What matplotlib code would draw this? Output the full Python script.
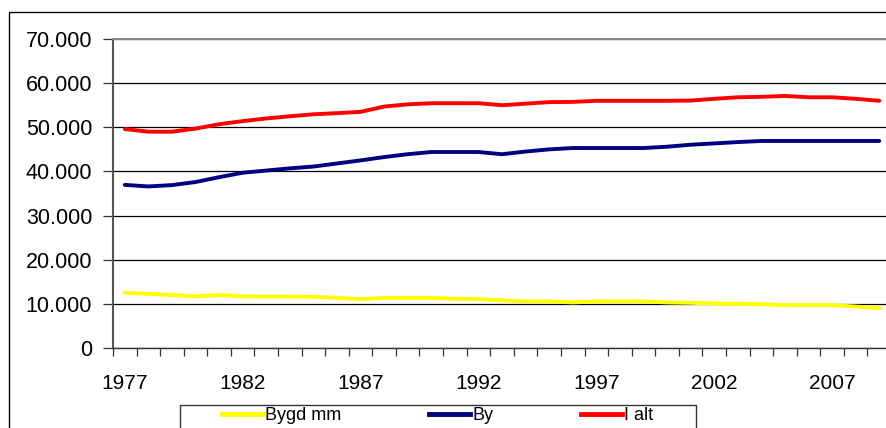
import matplotlib
matplotlib.use("Agg")
import matplotlib.pyplot as plt
from matplotlib.patches import Rectangle
from matplotlib.lines import Line2D

years = list(range(1977, 2010))
bygd_mm = [12500, 12270, 12000, 11680, 12000, 11680, 11650, 11650, 11600, 11360, 11070,
           11360, 11360, 11360, 11140, 11070, 10800, 10545, 10545, 10320, 10545, 10545,
           10545, 10320, 10230, 10090, 10000, 9930, 9700, 9700, 9700, 9400, 9020]
by = [36950, 36600, 36900, 37600, 38700, 39700, 40200, 40700, 41100, 41800, 42500,
      43250, 43900, 44400, 44400, 44400, 43900, 44500, 45000, 45300, 45300, 45300,
      45300, 45600, 46050, 46350, 46650, 46900, 46900, 46900, 46900, 46900, 46900]
i_alt = [49600, 49000, 49000, 49700, 50700, 51400, 52000, 52500, 52950, 53200, 53500,
         54700, 55200, 55450, 55450, 55450, 55000, 55350, 55700, 55750, 56000, 56000,
         56000, 56000, 56050, 56450, 56800, 56900, 57100, 56800, 56800, 56450, 56000]
series_names = ["Bygd mm", "By", "I alt"]
series_colors = ["#FFFF00", "#000080", "#FF0000"]
ytick_vals = [0, 10000, 20000, 30000, 40000, 50000, 60000, 70000]
ytick_labels = ["0", "10.000", "20.000", "30.000", "40.000", "50.000", "60.000", "70.000"]
xlabel_years = [1977, 1982, 1987, 1992, 1997, 2002, 2007]

FONT = "Liberation Sans"
W, H = 886, 428
fig = plt.figure(figsize=(W / 100, H / 100), dpi=100)
fig.patch.set_facecolor("white")

# outer chart border (cropped on right and bottom)
fig.patches.append(Rectangle((9 / W, -0.1), 2.0, (H - 12) / H + 0.1,
                             transform=fig.transFigure, fill=False,
                             edgecolor="black", linewidth=1.0))

left, right, top, bottom = 113, 891, 39, 348
ax = fig.add_axes([left / W, 1 - bottom / H, (right - left) / W, (bottom - top) / H])
ax.set_facecolor("white")

for vals, name, col in zip([bygd_mm, by, i_alt], series_names, series_colors):
    ax.plot(years, vals, color=col, linewidth=2.8, label=name,
            solid_joinstyle="round", solid_capstyle="round", zorder=3)

ax.set_ylim(0, 70000)
ax.set_xlim(years[0] - 0.5, years[-1] + 0.5)
ax.set_yticks(ytick_vals)
ax.set_yticklabels(ytick_labels, fontsize=15.5, family=FONT)
ax.yaxis.grid(True, color="black", linewidth=0.9, zorder=1)
ax.set_axisbelow(True)

ax.set_xticks([y - 0.5 for y in years] + [years[-1] + 0.5])
ax.set_xticklabels([])
ax.set_xticks(xlabel_years, minor=True)
ax.set_xticklabels([str(y) for y in xlabel_years], minor=True, fontsize=15, family=FONT)
ax.tick_params(axis="x", which="major", length=6, width=0.9, color="#333333", direction="out")
ax.tick_params(axis="x", which="minor", length=0, pad=19)
ax.tick_params(axis="y", which="major", length=7, width=0.9, color="#333333", pad=8)

ax.spines["right"].set_visible(False)
ax.spines["top"].set_color("#888888")
ax.spines["top"].set_linewidth(1.5)
ax.spines["left"].set_color("#555555")
ax.spines["left"].set_linewidth(1.5)
ax.spines["bottom"].set_color("#333333")
ax.spines["bottom"].set_linewidth(1.0)

# legend frame
fig.patches.append(Rectangle((180 / W, -0.1), (696 - 180) / W, (H - 405) / H + 0.1,
                             transform=fig.transFigure, fill=False,
                             edgecolor="#333333", linewidth=1.0))
handles = [Line2D([], [], color=c, linewidth=3.5) for c in series_colors]
leg = fig.legend(handles, series_names, loc="center left",
                 bbox_to_anchor=(222 / W, 1 - 416 / H), ncol=3, frameon=False,
                 prop={"family": FONT, "size": 13}, handlelength=2.25,
                 handletextpad=0.15, columnspacing=4.85, borderpad=0, borderaxespad=0)

fig.savefig("out.png", dpi=100, facecolor="white")
